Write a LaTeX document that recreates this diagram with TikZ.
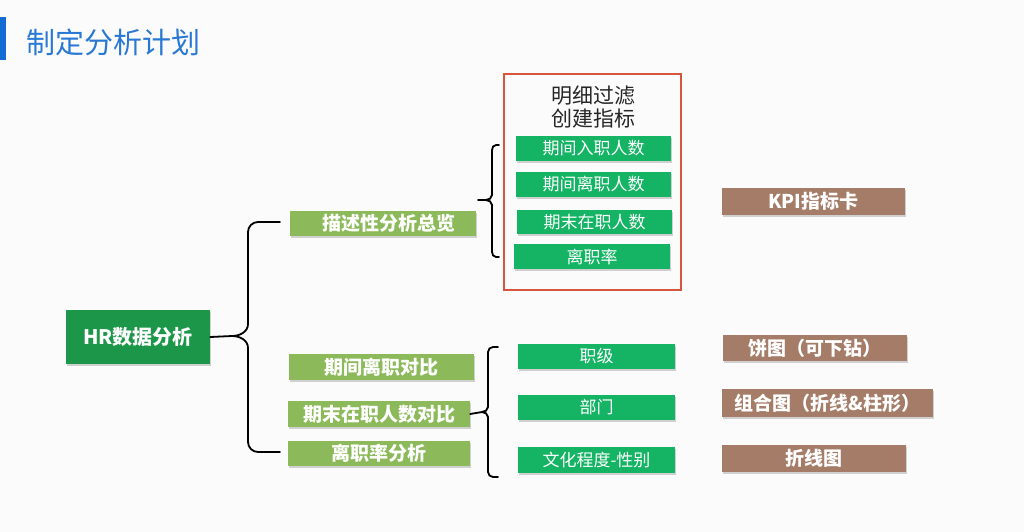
\documentclass[tikz,border=0pt]{standalone}
\usepackage{fontspec}
\setmainfont{Noto Sans CJK SC}
\usetikzlibrary{shadows}
\definecolor{titleblue}{RGB}{40,120,212}
\definecolor{barblue}{RGB}{18,108,210}
\definecolor{darkgreen}{RGB}{28,150,72}
\definecolor{olivegreen}{RGB}{140,186,90}
\definecolor{brightgreen}{RGB}{20,180,100}
\definecolor{brownbox}{RGB}{165,124,104}
\definecolor{redframe}{RGB}{215,85,60}
\definecolor{bgcol}{RGB}{251,251,252}
\begin{document}
\begin{tikzpicture}[x=1pt,y=-1pt,
  boxbase/.style={inner sep=0pt, text=white, drop shadow={shadow xshift=1.2pt, shadow yshift=-1.5pt, opacity=0.35, fill=gray}},
  rootbox/.style={boxbase, fill=darkgreen, font=\fontsize{20}{23}\selectfont\bfseries},
  lvlbox/.style={boxbase, fill=olivegreen, font=\fontsize{19}{22}\selectfont\bfseries},
  leafbox/.style={boxbase, fill=brightgreen, font=\fontsize{17}{20}\selectfont},
  chartbox/.style={boxbase, fill=brownbox, font=\fontsize{19}{22}\selectfont\bfseries},
  bracecurve/.style={draw=black, line width=1.8pt, line cap=round}
]
\useasboundingbox (0,0) rectangle (1024,532);
\fill[bgcol] (0,0) rectangle (1024,532);
% title
\fill[barblue] (0,17) rectangle (6,60);
\node[anchor=west, text=titleblue, font=\fontsize{29}{32}\selectfont, inner sep=0pt] (title) at (26,42) {制定分析计划};

% root
\node[rootbox, minimum width=144pt, minimum height=54pt] (hr) at (138,337) {HR数据分析};

% level-1 boxes
\node[lvlbox, minimum width=186pt, minimum height=25pt] (desc) at (383,223.5) {\hspace{12pt}描述性分析总览};
\node[lvlbox, minimum width=185pt, minimum height=26pt] (qjlz) at (381.5,367) {期间离职对比};
\node[lvlbox, minimum width=182pt, minimum height=26pt] (qmzz) at (379,414) {期末在职人数对比};
\node[lvlbox, minimum width=182pt, minimum height=25pt] (lzl) at (379,453.5) {离职率分析};

% red frame
\node[draw=redframe, line width=1.2pt, minimum width=177pt, minimum height=216pt, inner sep=0pt] (frame) at (592.5,182) {};
\node[font=\fontsize{21}{25}\selectfont, inner sep=0pt, align=center, text=black!85] (ftext) at (593,107) {明细过滤\\[-2pt]创建指标};

% leaf boxes in frame
\node[leafbox, minimum width=155pt, minimum height=25pt] (l1) at (593.5,148.5) {期间入职人数};
\node[leafbox, minimum width=155pt, minimum height=25pt] (l2) at (593.5,184.5) {期间离职人数};
\node[leafbox, minimum width=155pt, minimum height=24pt] (l3) at (594.5,222) {期末在职人数};
\node[leafbox, minimum width=156pt, minimum height=25pt] (l4) at (592,256.5) {离职率};

% lower leaf boxes
\node[leafbox, minimum width=157pt, minimum height=25pt] (d1) at (596.5,356.5) {职级};
\node[leafbox, minimum width=157pt, minimum height=25pt] (d2) at (596.5,407.5) {部门};
\node[leafbox, minimum width=157pt, minimum height=26pt] (d3) at (596.5,460) {文化程度-性别};

% chart boxes
\node[chartbox, minimum width=183pt, minimum height=27pt] (kpi) at (813.5,201.5) {KPI指标卡};
\node[chartbox, minimum width=184pt, minimum height=26pt] (pie) at (815,348) {饼图（可下钻）};
\node[chartbox, minimum width=211pt, minimum height=28pt] (combo) at (827.5,403) {组合图（折线\&柱形）};
\node[chartbox, minimum width=184pt, minimum height=27pt] (line) at (814,458.5) {折线图};

% main brace
\coordinate (mbt) at (280,222);
\coordinate (mbb) at (280,452);
\draw[bracecurve] (mbt) -- (258,222) to[out=180,in=90] (248,232) -- (248,324)
  to[out=-90,in=0] (232,336) -- (hr.east);
\draw[bracecurve] (mbb) -- (258,452) to[out=180,in=-90] (248,442) -- (248,348)
  to[out=90,in=0] (232,336);

% description brace
\coordinate (dbt) at (499,145);
\coordinate (dbb) at (499,257);
\coordinate (dtip) at (478,200);
\draw[bracecurve] (dbt) -- (496,145) to[out=180,in=90] (492,150) -- (492,195)
  to[out=-90,in=0] (486,200) -- (dtip);
\draw[bracecurve] (dbb) -- (496,257) to[out=180,in=-90] (492,252) -- (492,205)
  to[out=90,in=0] (486,200);

% lower brace
\coordinate (lbt) at (498,347);
\coordinate (lbb) at (498,477);
\draw[bracecurve] (lbt) -- (493,347) to[out=180,in=90] (488,352) -- (488,407)
  to[out=-90,in=0] (482,412) -- (qmzz.east);
\draw[bracecurve] (lbb) -- (493,477) to[out=180,in=-90] (488,472) -- (488,417)
  to[out=90,in=0] (482,412);
\end{tikzpicture}
\end{document}
